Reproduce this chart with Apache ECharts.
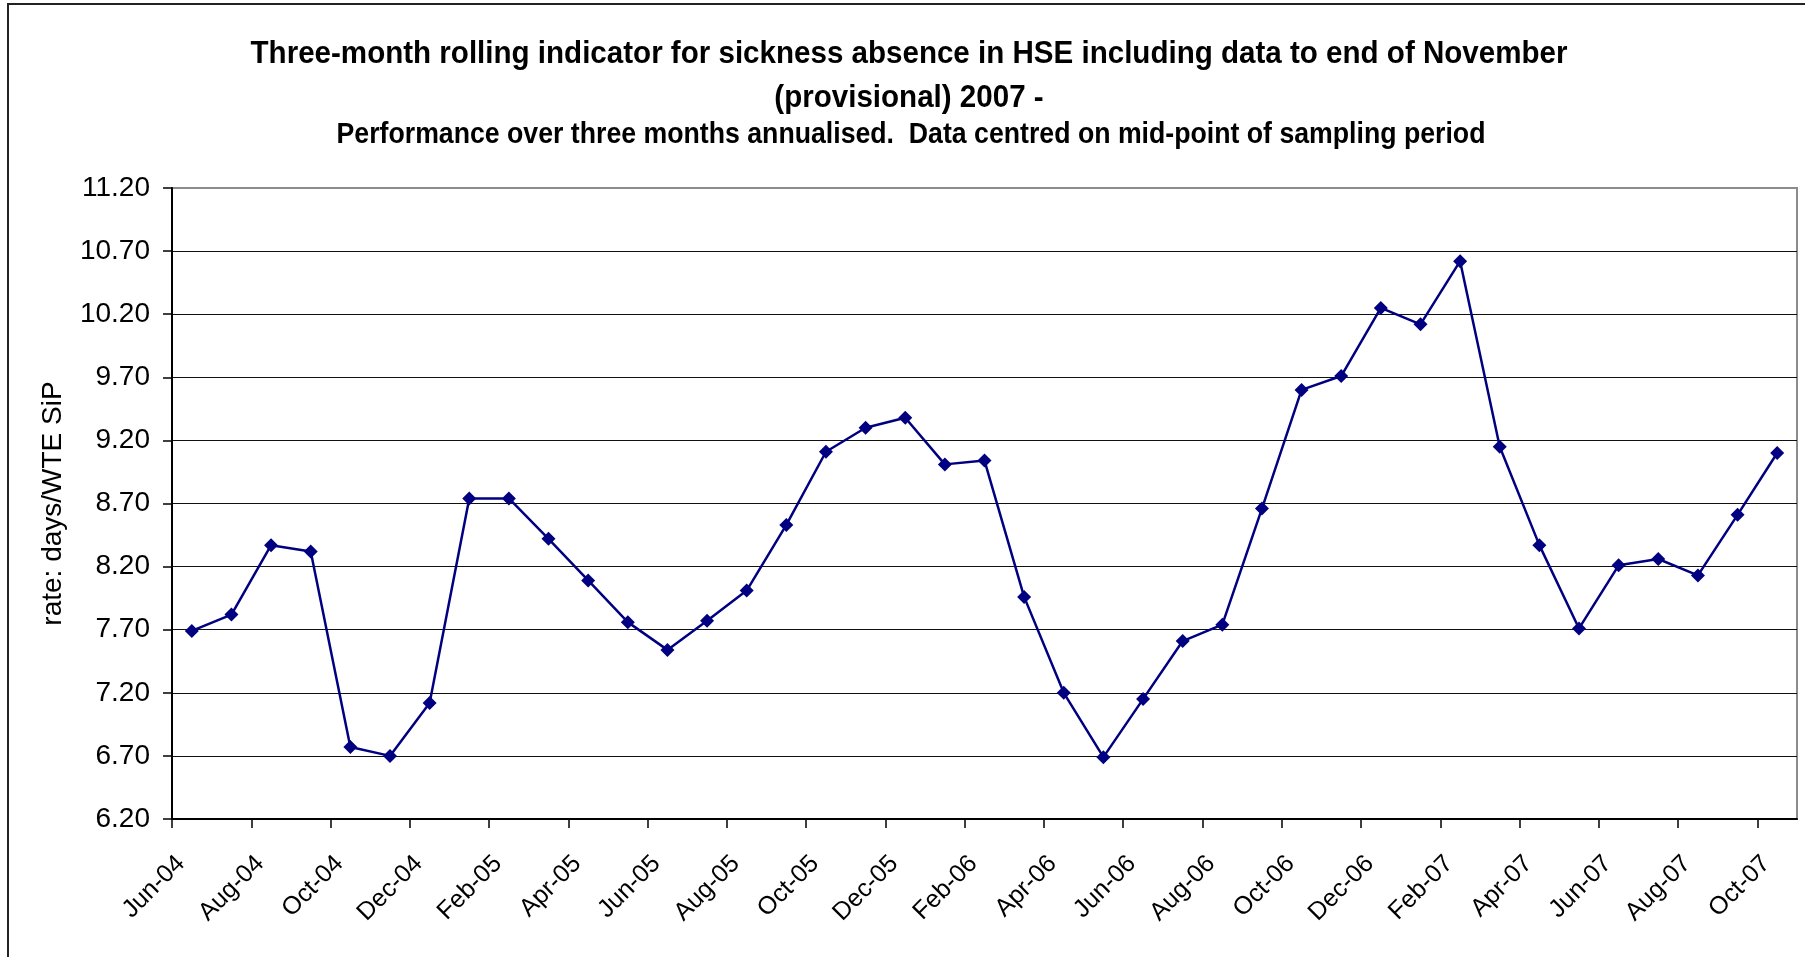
<!DOCTYPE html>
<html><head><meta charset="utf-8">
<script src="https://cdn.jsdelivr.net/npm/echarts@6/dist/echarts.min.js"></script>
<style>html,body{margin:0;padding:0;background:#fff}#chart{width:1805px;height:957px}</style>
</head><body><div id="chart"></div>
<script>
const months = ["Jun-04","Jul-04","Aug-04","Sep-04","Oct-04","Nov-04","Dec-04",
  "Jan-05","Feb-05","Mar-05","Apr-05","May-05","Jun-05","Jul-05","Aug-05","Sep-05","Oct-05","Nov-05","Dec-05",
  "Jan-06","Feb-06","Mar-06","Apr-06","May-06","Jun-06","Jul-06","Aug-06","Sep-06","Oct-06","Nov-06","Dec-06",
  "Jan-07","Feb-07","Mar-07","Apr-07","May-07","Jun-07","Jul-07","Aug-07","Sep-07","Oct-07"];
const values = [7.69, 7.82, 8.37, 8.32, 6.77, 6.70, 7.12,
  8.74, 8.74, 8.42, 8.09, 7.76, 7.54, 7.77, 8.01, 8.53, 9.11, 9.30, 9.38,
  9.01, 9.04, 7.96, 7.20, 6.69, 7.15, 7.61, 7.74, 8.66, 9.60, 9.71, 10.25,
  10.12, 10.62, 9.15, 8.37, 7.71, 8.21, 8.26, 8.13, 8.61, 9.10];
const xTickLabels = ["Jun-04","Aug-04","Oct-04","Dec-04","Feb-05","Apr-05","Jun-05","Aug-05","Oct-05","Dec-05",
  "Feb-06","Apr-06","Jun-06","Aug-06","Oct-06","Dec-06","Feb-07","Apr-07","Jun-07","Aug-07","Oct-07"];
const yTickLabels = ["6.20","6.70","7.20","7.70","8.20","8.70","9.20","9.70","10.20","10.70","11.20"];
const titleLine1 = "Three-month rolling indicator for sickness absence in HSE including data to end of November";
const titleLine2 = "(provisional) 2007 -";
const subtitle = "Performance over three months annualised.  Data centred on mid-point of sampling period";
const yName = "rate: days/WTE SiP";

const xTicks = xTickLabels.map(l => months.indexOf(l));
const yTicks = yTickLabels.map(Number);
const seriesData = values.map((v, i) => [i + 0.5, v]);

const chart = echarts.init(document.getElementById('chart'), null, {renderer: 'canvas'});
const sans = '"Liberation Sans", Arial, sans-serif';
function titleText(text, x, y, size, sx) {
  return {
    type: 'text', x: x, y: y, scaleX: sx, silent: true,
    style: {text: text, x: 0, y: 0, fill: '#000', font: 'bold ' + size + 'px ' + sans,
            align: 'center', textAlign: 'center', verticalAlign: 'top', textVerticalAlign: 'top'}
  };
}
chart.setOption({
  animation: false,
  backgroundColor: '#ffffff',
  graphic: [
    {type: 'rect', z: -10, silent: true,
     shape: {x: 8, y: 4, width: 1900, height: 1100},
     style: {fill: 'none', stroke: '#222', lineWidth: 2}},
    titleText(titleLine1, 909, 38, 32, 0.9235),
    titleText(titleLine2, 909, 82, 32, 0.9235),
    titleText(subtitle, 911, 120, 29, 0.92)
  ],
  grid: {left: 172, right: 8, top: 188, bottom: 138, show: true,
         borderColor: '#8c8c8c', borderWidth: 2, backgroundColor: 'transparent'},
  xAxis: {
    type: 'value', min: 0, max: months.length,
    axisLine: {show: true, onZero: false, lineStyle: {color: '#000', width: 2}},
    axisTick: {show: true, customValues: xTicks, length: 9, lineStyle: {color: '#000', width: 1.5}},
    axisLabel: {customValues: xTicks, formatter: v => months[Math.round(v)] || '',
                rotate: 45, margin: 32, verticalAlign: 'top',
                fontFamily: sans, fontSize: 25, color: '#000'},
    splitLine: {show: false}
  },
  yAxis: {
    type: 'value', min: yTicks[0], max: yTicks[yTicks.length - 1],
    name: yName, nameLocation: 'middle', nameGap: 105, nameRotate: 90,
    nameTextStyle: {fontFamily: sans, fontSize: 28, color: '#000'},
    axisLine: {show: true, lineStyle: {color: '#000', width: 2}},
    axisTick: {show: true, customValues: yTicks, length: 9, lineStyle: {color: '#000', width: 1.5}},
    axisLabel: {customValues: yTicks, formatter: v => v.toFixed(2), margin: 22,
                fontFamily: sans, fontSize: 28, color: '#000'},
    splitLine: {show: true, showMaxLine: false, lineStyle: {color: '#111', width: 1.2}}
  },
  series: [{
    type: 'line', data: seriesData,
    symbol: 'diamond', symbolSize: 14,
    itemStyle: {color: '#000080'},
    lineStyle: {color: '#000080', width: 2.5}
  }]
});
</script></body></html>
